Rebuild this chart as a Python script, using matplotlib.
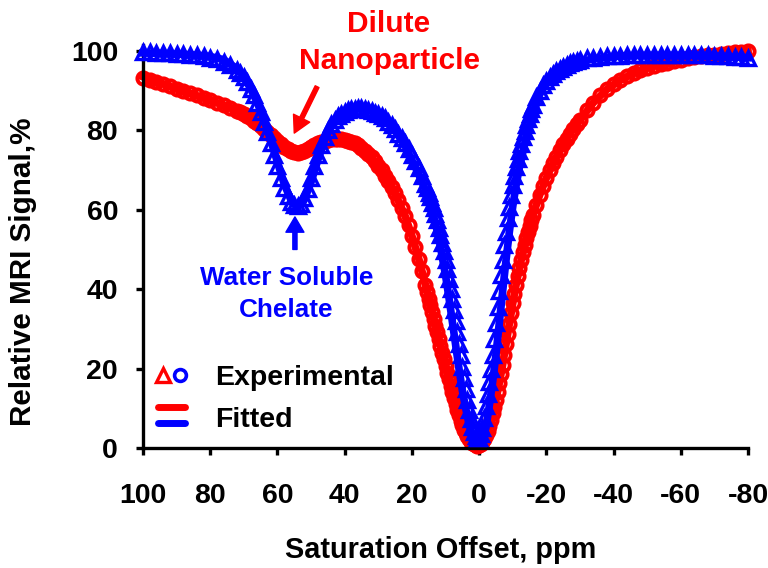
import matplotlib
matplotlib.use('Agg')
import matplotlib.pyplot as plt
from matplotlib.legend_handler import HandlerBase, HandlerTuple
from matplotlib.lines import Line2D

plt.rcParams['font.family'] = ['Liberation Sans', 'DejaVu Sans']
plt.rcParams['font.weight'] = 'bold'
plt.rcParams['axes.unicode_minus'] = False

# Experimental saturation offsets (ppm) and measured signal (%)
exp_ppm = [100, 98, 96, 94, 92, 90, 88, 86, 84, 82, 80, 78, 76, 74, 72,
           71, 70, 69, 68, 67, 66, 65, 64, 63, 62, 61, 60, 59, 58, 57, 56, 55, 54, 53, 52,
           51, 50, 49, 48, 47, 46, 45, 44, 43, 42, 41, 40, 39, 38, 37, 36, 35, 34, 33, 32,
           31, 30, 29, 28, 27, 26, 25, 24, 23, 22, 21, 20, 19, 18, 17,
           16, 15.5, 15, 14.5, 14, 13.5, 13, 12.5, 12, 11.5, 11, 10.5, 10, 9.5, 9, 8.5, 8, 7.5, 7, 6.5,
           6, 5.5, 5, 4.5, 4, 3.5, 3, 2.5, 2, 1.5, 1, 0.5, 0, -0.5, -1, -1.5, -2, -2.5, -3, -3.5,
           -4, -4.5, -5, -5.5, -6, -6.5, -7, -7.5, -8, -8.5, -9, -9.5, -10, -10.5, -11, -11.5, -12, -12.5, -13, -13.5,
           -14, -14.5, -15, -15.5, -16,
           -17, -18, -19, -20, -21, -22, -23, -24, -25, -26, -27, -28, -29, -30,
           -32, -34, -36, -38, -40, -42, -44, -46, -48, -50, -52, -54, -56, -58, -60,
           -62, -64, -66, -68, -70, -72, -74, -76, -78, -80]

chelate_exp = [99.8, 99.7, 99.6, 99.5, 99.5, 99.3, 99.2, 99.0, 98.9, 98.6, 98.3, 97.9, 97.3, 96.5, 95.3,
               94.5, 93.4, 92.1, 90.5, 88.8, 86.8, 84.6, 82.1, 79.5, 76.7, 73.8, 70.9, 68.1, 65.6, 63.5, 62.0, 61.2, 61.0, 61.5, 63.0,
               65.3, 68.0, 71.0, 73.8, 76.3, 78.4, 80.1, 81.5, 82.6, 83.5, 84.1, 84.6, 85.0, 85.3, 85.5, 85.6, 85.6, 85.5, 85.2, 84.8,
               84.4, 84.0, 83.5, 83.0, 82.2, 81.3, 80.3, 79.2, 78.0, 76.7, 75.3, 73.8, 72.2, 70.5, 68.6,
               66.5, 65.4, 64.3, 63.1, 61.8, 60.4, 59.0, 57.3, 55.5, 53.6, 51.6, 49.5, 47.3, 45.0, 42.6, 40.1, 37.5, 34.8, 32.0, 29.2,
               26.3, 23.4, 20.5, 17.6, 14.8, 12.1, 9.6, 7.3, 5.4, 3.9, 2.9, 2.4, 2.5, 3.4, 5.0, 7.5, 10.5, 13.5, 16.5, 20.0,
               23.5, 27.5, 31.5, 35.5, 39.5, 43.5, 47.3, 51.0, 54.5, 57.8, 60.8, 63.6, 66.2, 68.6, 70.8, 72.9, 74.8, 76.6, 78.3, 79.9,
               81.4, 82.8, 84.1, 85.3, 86.4,
               88.4, 90.0, 91.4, 92.5, 93.4, 94.2, 94.9, 95.5, 96.0, 96.5, 96.9, 97.2, 97.5, 97.7,
               98.1, 98.3, 98.5, 98.6, 98.7, 98.8, 98.9, 99.0, 99.0, 99.1, 99.1, 99.1, 99.1, 99.1, 99.1,
               99.0, 99.0, 98.9, 98.9, 98.8, 98.7, 98.6, 98.5, 98.4, 98.3]

nano_exp = [93.3, 92.8, 92.2, 91.6, 91.1, 90.5, 90.0, 89.4, 88.8, 88.2, 87.6, 87.0, 86.3, 85.6, 84.9,
            84.5, 84.0, 83.5, 83.0, 82.4, 81.8, 81.1, 80.4, 79.6, 78.8, 78.0, 77.2, 76.5, 75.8, 75.2, 74.8, 74.5, 74.4, 74.5, 74.8,
            75.2, 75.7, 76.2, 76.7, 77.1, 77.4, 77.6, 77.8, 77.9, 77.9, 77.8, 77.6, 77.4, 77.1, 76.7, 76.2, 75.6, 74.9, 74.1, 73.2,
            72.2, 71.1, 69.9, 68.6, 67.2, 65.7, 64.1, 62.4, 60.5, 58.4, 56.2, 53.3, 50.5, 47.6, 44.5,
            41.0, 39.3, 37.6, 35.9, 34.2, 32.5, 30.8, 29.1, 27.4, 25.7, 24.0, 22.3, 20.6, 18.9, 17.3, 15.7, 14.1, 12.5, 11.0, 9.6,
            8.2, 6.9, 5.7, 4.6, 3.7, 2.9, 2.2, 1.6, 1.2, 0.9, 0.7, 0.6, 0.7, 1.0, 1.5, 2.3, 3.2, 4.3, 5.6, 7.1,
            8.7, 10.4, 12.2, 14.2, 16.3, 18.6, 21.0, 23.5, 26.1, 28.7, 31.3, 33.9, 36.4, 38.8, 41.1, 43.3, 45.4, 47.4, 49.3, 51.1,
            52.8, 54.4, 55.9, 57.3, 58.7,
            61.3, 63.7, 65.9, 68.0, 69.9, 71.7, 73.4, 75.0, 76.5, 77.9, 79.2, 80.4, 81.5, 82.6,
            85.0, 87.0, 88.8, 90.3, 91.6, 92.7, 93.6, 94.4, 95.1, 95.7, 96.2, 96.6, 97.0, 97.4, 97.8,
            98.1, 98.4, 98.7, 98.9, 99.1, 99.3, 99.5, 99.7, 99.8, 100.0]

# Fitted curves
fit_ppm = [100, 95, 90, 85, 80, 76, 72, 70, 68, 66, 64, 62, 60, 58, 56,
           55, 54, 53, 52, 50, 48, 46, 44, 42, 40, 37, 34, 31, 28, 25, 22, 20, 18, 16, 14,
           12, 10, 9, 8, 7, 6, 5, 4, 3, 2, 1, 0, -1, -2, -3, -4, -5, -6, -7, -8,
           -9, -10, -11, -12, -14, -16, -18, -20, -22, -24, -26, -28, -30, -34, -38, -42, -46, -50, -55, -60,
           -65, -70, -75, -80]

chelate_fit = [99.5, 99.4, 99.2, 99.0, 98.6, 97.8, 95.5, 93.5, 90.5, 87.0, 82.5, 77.5, 72.0, 66.5, 62.5,
               61.3, 61.0, 61.3, 62.5, 67.0, 72.5, 77.5, 81.0, 83.2, 84.5, 85.3, 85.5, 84.8, 83.0, 80.0, 76.0, 72.5, 69.0, 65.0, 60.0,
               53.0, 43.5, 38.0, 32.0, 26.0, 20.0, 14.5, 10.0, 6.0, 3.2, 1.5, 1.2, 2.5, 5.0, 10.5, 16.5, 23.5, 31.5, 39.5, 47.3,
               54.5, 60.8, 66.2, 70.8, 78.3, 84.1, 89.0, 92.0, 94.0, 95.3, 96.1, 96.8, 97.3, 98.0, 98.4, 98.7, 98.8, 98.9, 98.9, 98.9,
               98.8, 98.7, 98.5, 98.3]

nano_fit = [93.5, 92.0, 90.5, 89.0, 87.6, 86.3, 85.0, 84.0, 83.0, 81.8, 80.4, 78.9, 77.4, 76.0, 75.0,
            74.7, 74.6, 74.7, 75.0, 75.8, 76.7, 77.4, 77.8, 77.9, 77.6, 76.7, 74.9, 72.2, 68.6, 64.1, 58.4, 53.4, 47.8, 41.2, 34.2,
            27.4, 20.6, 17.3, 14.1, 11.0, 8.2, 5.7, 3.7, 2.2, 1.2, 0.7, 0.7, 1.5, 3.2, 5.6, 8.7, 12.2, 16.3, 21.0, 26.1,
            31.3, 36.4, 41.1, 45.4, 52.8, 58.7, 63.7, 68.0, 71.7, 75.0, 77.9, 80.4, 82.6, 87.0, 90.3, 92.7, 94.4, 95.7, 96.9, 97.8,
            98.5, 99.1, 99.6, 100.0]

x_ticks = [100, 80, 60, 40, 20, 0, -20, -40, -60, -80]
y_ticks = [0, 20, 40, 60, 80, 100]

fig = plt.figure(figsize=(7.68, 5.68), dpi=100)
ax = fig.add_axes([0.1862, 0.2113, 0.7878, 0.7095])

# Nanoparticle (red) first, chelate (blue) on top
ax.plot(fit_ppm, nano_fit, color='red', lw=5.5, solid_joinstyle='round', clip_on=False, zorder=2)
ax.plot(exp_ppm, nano_exp, ls='none', marker='o', ms=8.8, mfc='none', mec='red', mew=2.8, clip_on=False, zorder=2)
ax.plot(fit_ppm, chelate_fit, color='blue', lw=5.5, solid_joinstyle='round', clip_on=False, zorder=3)
ax.plot(exp_ppm, chelate_exp, ls='none', marker='^', ms=10, mfc='none', mec='blue', mew=2.4, clip_on=False, zorder=3)

ax.set_xlim(100, -80)
ax.set_ylim(0, 101.5)
ax.set_xticks(x_ticks)
ax.set_xticklabels([str(t) for t in x_ticks])
ax.set_yticks(y_ticks)

for side in ['top', 'right']:
    ax.spines[side].set_visible(False)
for side in ['left', 'bottom']:
    ax.spines[side].set_linewidth(2.4)
ax.tick_params(axis='both', direction='out', length=5, width=2.4, labelsize=20.5)
ax.tick_params(axis='x', pad=20)
ax.tick_params(axis='y', pad=13)

ax.set_xlabel('Saturation Offset, ppm', fontsize=20.8, fontweight='bold')
ax.set_ylabel('Relative MRI Signal,%', fontsize=21.3, fontweight='bold')
ax.xaxis.set_label_coords(0.4926, -0.218)
ax.yaxis.set_label_coords(-0.175, 0.437)

# Annotations
ax.annotate('', xy=(55, 79.3), xytext=(48.2, 91),
            arrowprops=dict(facecolor='red', edgecolor='red', width=3, headwidth=13, headlength=12),
            annotation_clip=False)
ax.text(26.8, 102.2, 'Dilute\nNanoparticle', color='red', fontsize=21.5, fontweight='bold',
        ha='center', va='center', multialignment='center', linespacing=1.4)
ax.annotate('', xy=(54.8, 58.2), xytext=(54.8, 50),
            arrowprops=dict(facecolor='blue', edgecolor='blue', width=3, headwidth=13, headlength=11),
            annotation_clip=False)
ax.text(57.4, 38.8, 'Water Soluble\nChelate', color='blue', fontsize=18.8, fontweight='bold',
        ha='center', va='center', multialignment='center', linespacing=1.45)


class StackedLines(HandlerBase):
    def create_artists(self, legend, orig_handle, xdescent, ydescent, width, height, fontsize, trans):
        artists = []
        for i, h in enumerate(orig_handle):
            y = height * (1.0 - 0.8 * i) - ydescent
            ln = Line2D([-xdescent, width - xdescent], [y, y], color=h.get_color(),
                        lw=h.get_linewidth(), solid_capstyle='round')
            ln.set_transform(trans)
            artists.append(ln)
        return artists


tri = Line2D([], [], ls='none', marker='^', ms=9.5, mfc='none', mec='red', mew=2.4)
circ = Line2D([], [], ls='none', marker='o', ms=8.5, mfc='none', mec='blue', mew=2.6)
red_line = Line2D([], [], color='red', lw=5)
blue_line = Line2D([], [], color='blue', lw=5)
exp_handle = (tri, circ)
fit_handle = (red_line, blue_line)

ax.legend([exp_handle, fit_handle], ['Experimental', 'Fitted'],
          handler_map={exp_handle: HandlerTuple(ndivide=None, pad=0.2), fit_handle: StackedLines()},
          loc='center left', bbox_to_anchor=(0.025, 0.122), frameon=False,
          borderpad=0, borderaxespad=0, handlelength=0.95, handletextpad=1.05, labelspacing=0.56,
          prop={'weight': 'bold', 'size': 20.5})

fig.savefig('out.png', dpi=100)
